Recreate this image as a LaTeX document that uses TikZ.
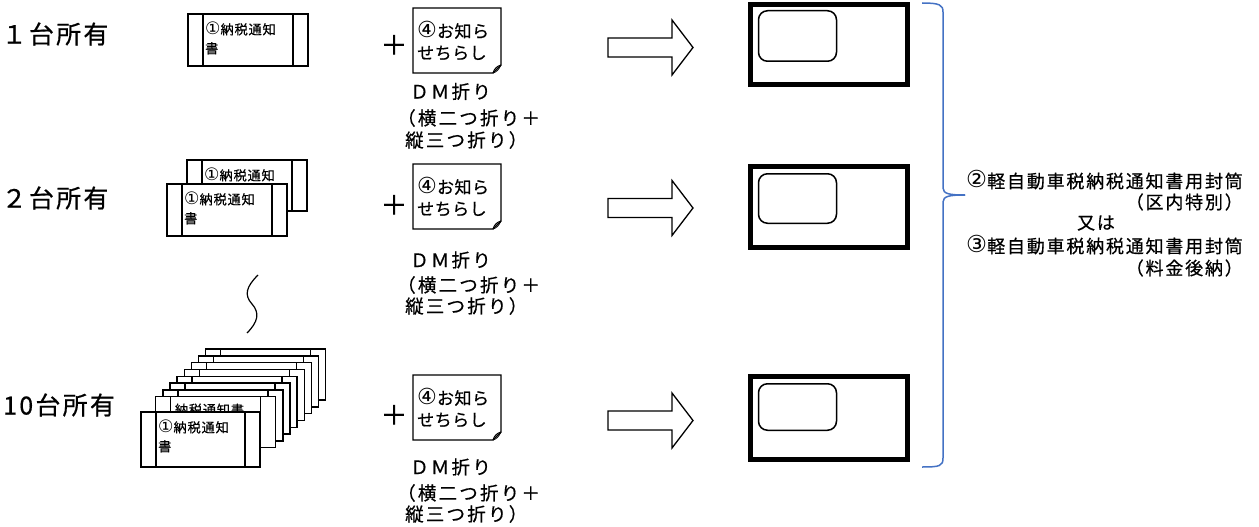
\documentclass[tikz,border=0pt]{standalone}
\usepackage{fontspec}
\setmainfont{Noto Sans CJK JP}[RawFeature={embolden=0.6}]
\newfontfamily\circfont{DejaVu Sans}
\newcommand{\cnum}[1]{{\circfont\addfontfeatures{Scale=1.3}#1}}
\definecolor{braceblue}{RGB}{68,114,196}
\tikzset{
  docline/.style={line width=1.4pt, fill=white},
  doctext/.style={font=\fontsize{13.2}{19}\selectfont\addfontfeatures{LetterSpace=6}, inner sep=0pt, align=left},
  titletext/.style={font=\fontsize{25}{29}\selectfont\addfontfeatures{LetterSpace=9}, inner sep=0pt},
  notetext/.style={font=\fontsize{17}{22}\selectfont\addfontfeatures{LetterSpace=3}, inner sep=0pt},
  dmtext/.style={font=\fontsize{18.5}{24}\selectfont\addfontfeatures{LetterSpace=12}, inner sep=0pt},
  rtext/.style={font=\fontsize{18}{22}\selectfont\addfontfeatures{LetterSpace=10}, inner sep=0pt},
  plustext/.style={font=\fontsize{27}{30}\selectfont, inner sep=0pt},
  noteline/.style={line width=1.3pt, fill=white},
  blockarrow/.style={line width=1.3pt, fill=white},
  envout/.style={line width=5pt},
  envin/.style={line width=1.5pt, rounded corners=9pt},
  bracepath/.style={draw=braceblue, line width=1.5pt}
}
\newcommand{\mydoc}[6]{%
  \filldraw[docline] (#2,#3) rectangle ++(#4,#5);
  \draw[line width=1.4pt] (#2+15,#3) -- ++(0,#5);
  \draw[line width=1.4pt] (#2+#4-15,#3) -- ++(0,#5);
  \node[doctext, anchor=north west] (#1) at (#2+17,#3+7.5) {#6};
}
\begin{document}
\begin{tikzpicture}[x=1pt,y=-1pt]
\useasboundingbox (0,0) rectangle (1259,527);

% titles
\node[titletext, anchor=west] (t1) at (1.5,34) {１台所有};
\node[titletext, anchor=west] (t2) at (1.5,198) {２台所有};
\node[titletext, anchor=west] (t3) at (3,405) {10台所有};

% documents
\mydoc{d1}{188}{14}{120}{52}{\cnum{①}納税通知\\書}
\mydoc{d2b}{187}{160}{120}{51}{\cnum{①}納税通知}
\mydoc{d2f}{167}{184}{120}{52}{\cnum{①}納税通知\\書}
\foreach \k in {8,7,...,1}{
  \pgfmathsetmacro{\lx}{155.7+(\k-1)*7.14}
  \pgfmathsetmacro{\ty}{396.7-(\k-1)*6.8}
  \filldraw[docline] (\lx,\ty) rectangle ++(120,51);
  \draw[line width=1.4pt] (\lx+15,\ty) -- ++(0,51);
  \draw[line width=1.4pt] (\lx+105,\ty) -- ++(0,51);
  \node[doctext, anchor=west] (ds\k) at (\lx+19,\ty+13) {納税通知書};
}
\mydoc{d3f}{141}{412}{119}{55}{\cnum{①}納税通知\\書}

% squiggle
\draw[line width=1.2pt] (258,275) .. controls (246,287) and (244,295) .. (252,304) .. controls (260,313) and (258,322) .. (247,333);

% rows: plus, note, DM text, arrow
\foreach \r/\nt/\ac/\py/\da/\db/\dc in {1/8/47.5/45/91.5/118/140, 2/164/208/205/260/285/306, 3/375/420.5/415/467/493/514}{
  \node[plustext] (plus\r) at (394,\py) {＋};
  \draw[noteline] (413,\nt) -- (501,\nt) -- (501,\nt+57) -- (493,\nt+65) -- (413,\nt+65) -- cycle;
  \draw[line width=1pt] (493,\nt+65) .. controls (494,\nt+61) and (497,\nt+58) .. (501,\nt+57);
  \draw[line width=0.8pt] (493,\nt+65) .. controls (497,\nt+64) and (499,\nt+61) .. (501,\nt+57);
  \node[notetext, anchor=west] (na\r) at (417,\nt+22) {\cnum{④}お知ら};
  \node[notetext, anchor=west] (nb\r) at (417,\nt+45) {せちらし};
  \node[dmtext, anchor=west] (dma\r) at (410,\da) {ＤＭ折り};
  \node[dmtext, anchor=west] (dmb\r) at (397,\db) {（横二つ折り＋};
  \node[dmtext, anchor=west] (dmc\r) at (405,\dc) {縦三つ折り）};
  \draw[blockarrow] (608,\ac-9.5) -- (672,\ac-9.5) -- (672,\ac-27.5) -- (693,\ac) -- (672,\ac+27.5) -- (672,\ac+9.5) -- (608,\ac+9.5) -- cycle;
}

% envelopes
\draw[envout] (750.5,4.5) rectangle (907.5,84.5);
\draw[envin] (758.5,10.75) rectangle (836.5,61.25);
\draw[envout] (750.5,166.5) rectangle (907.5,247.5);
\draw[envin] (758.5,173.75) rectangle (836.5,223.25);
\draw[envout] (750.5,376.5) rectangle (907.5,459.5);
\draw[envin] (758.5,383.75) rectangle (836.5,430.25);

% brace
\draw[bracepath] (922,3) .. controls (940,3) and (943,5) .. (943,12) -- (943,188) .. controls (943,194) and (950,195) .. (965,195);
\draw[bracepath] (965,195) .. controls (950,195) and (943,196) .. (943,202) -- (943,458) .. controls (943,466) and (940,467) .. (922,467);

% right text
\node[rtext, anchor=east] (r1) at (1243,180) {\cnum{②}軽自動車税納税通知書用封筒};
\node[rtext, anchor=east] (r2) at (1243,202) {（区内特別）};
\node[rtext] (r3) at (1096,223) {又は};
\node[rtext, anchor=east] (r4) at (1243,245) {\cnum{③}軽自動車税納税通知書用封筒};
\node[rtext, anchor=east] (r5) at (1243,268) {（料金後納）};
\end{tikzpicture}
\end{document}
